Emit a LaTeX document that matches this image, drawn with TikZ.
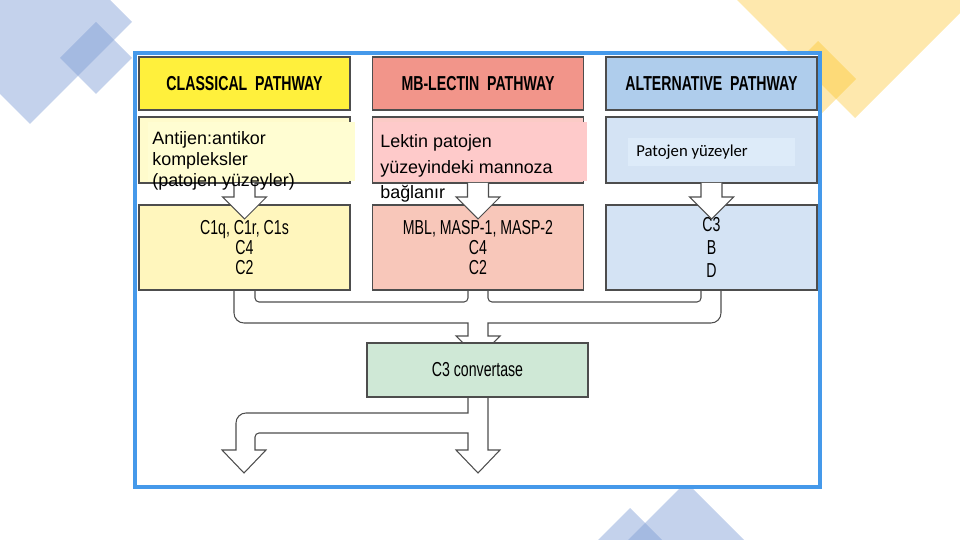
\documentclass[tikz,border=0pt]{standalone}
\usepackage{fontspec}
\setmainfont{Liberation Sans}
\newfontfamily\condfont[FakeStretch=0.7]{Liberation Sans}
\newfontfamily\notefont{Carlito}

\definecolor{clsHead}{HTML}{FFF03C}
\definecolor{clsLight}{HTML}{FFFBCC}
\definecolor{clsNote}{HTML}{FFFDD2}
\definecolor{clsBody}{HTML}{FFF6BD}
\definecolor{mbHead}{HTML}{F2958A}
\definecolor{mbLight}{HTML}{FBCBC6}
\definecolor{mbNote}{HTML}{FECACA}
\definecolor{mbBody}{HTML}{F8C7BA}
\definecolor{altHead}{HTML}{AFCDEC}
\definecolor{altBody}{HTML}{D4E3F4}
\definecolor{altNote}{HTML}{DDEBF9}
\definecolor{convFill}{HTML}{CFE8D6}
\definecolor{frameBlue}{HTML}{4599EA}
\definecolor{boxLine}{HTML}{4D4D4D}
\definecolor{decoBlue}{HTML}{7D9CD4}
\definecolor{decoGold}{HTML}{FCBE14}

\newcommand*{\outr}{0.2cm}
\newcommand*{\inr}{0.08cm}
\newcommand*{\shaftw}{10.5}
\newcommand*{\headw}{22}

% hollow block arrow: centre x, top, head base, tip
\newcommand*{\blockarrow}[4]{%
    \draw[arrline, fill=white] (#1-\shaftw,#2) -- (#1-\shaftw,#3) -- (#1-\headw,#3) -- (#1,#4) --
    (#1+\headw,#3) -- (#1+\shaftw,#3) -- (#1+\shaftw,#2);
}

\begin{document}
\begin{tikzpicture}[x=0.02cm, y=-0.02cm,
    box/.style={draw=boxLine, line width=0.6pt, minimum width=211*0.02cm, inner sep=0pt},
    hdr/.style={box, minimum height=53*0.02cm, font=\condfont\bfseries\fontsize{11.5}{13}\selectfont},
    src/.style={box, minimum height=66*0.02cm},
    body/.style={box, minimum height=85*0.02cm, align=center, font=\condfont\fontsize{11.5}{11.3}\selectfont},
    note/.style={inner sep=0pt, align=left, anchor=north west},
    arrline/.style={draw=boxLine, line width=0.6pt}]
\useasboundingbox (0,0) rectangle (960,540);

% background decoration
\begin{scope}
\clip (0,0) rectangle (960,540);
\fill[decoBlue, opacity=0.45] (30,-80) -- (132,22) -- (30,124) -- (-72,22) -- cycle;
\fill[decoBlue, opacity=0.45] (96,22) -- (132,58) -- (96,94) -- (60,58) -- cycle;
\fill[decoGold, opacity=0.35] (855,-118) -- (973,0) -- (855,118) -- (737,0) -- cycle;
\fill[decoGold, opacity=0.35] (818,41) -- (856,79) -- (818,117) -- (780,79) -- cycle;
\fill[decoBlue, opacity=0.45] (686,482) -- (760,556) -- (686,630) -- (612,556) -- cycle;
\fill[decoBlue, opacity=0.45] (630,508) -- (680,558) -- (630,608) -- (580,558) -- cycle;
\end{scope}

% frame
\filldraw[fill=white, draw=frameBlue, line width=2.3pt] (135,53) rectangle (820,487);

% pathway headers
\node[hdr, fill=clsHead] (clsHdr) at (244.5,83.5) {CLASSICAL\ \ PATHWAY};
\node[hdr, fill=mbHead] (mbHdr) at (478,83.5) {MB-LECTIN\ \ PATHWAY};
\node[hdr, fill=altHead] (altHdr) at (711.5,83.5) {ALTERNATIVE\ \ PATHWAY};

% activators
\node[src, fill=clsLight] (clsSrc) at (244.5,150) {};
\node[src, fill=mbLight] (mbSrc) at (478,150) {};
\node[src, fill=altBody] (altSrc) at (711.5,150) {};

% components
\node[body, fill=clsBody] (clsComp) at (244.5,247.5) {C1q, C1r, C1s\\C4\\C2};
\node[body, fill=mbBody] (mbComp) at (478,247.5) {MBL, MASP-1, MASP-2\\C4\\C2};
\node[body, fill=altBody, font=\condfont\fontsize{11.5}{13.3}\selectfont] (altComp) at (711.5,247.5) {C3\\B\\D};

% arrows into the components
\blockarrow{244.5}{183}{197}{219}
\blockarrow{478}{183}{197}{219}
\blockarrow{711.5}{183}{197}{219}

% merging into the convertase
\draw[arrline] (234,290) [rounded corners=\outr] -- (234,323) [sharp corners] -- (468,323) -- (468,336) --
(456,336) -- (478,358) -- (500,336) -- (488,336) -- (488,323) [rounded corners=\outr] -- (721,323) [sharp corners] -- (721,290);
\draw[arrline] (255,290) [rounded corners=\inr] -- (255,302) -- (468,302) -- (468,290);
\draw[arrline] (488,290) [rounded corners=\inr] -- (488,302) -- (701,302) -- (701,290);

% convertase
\node[box, fill=convFill, minimum width=221*0.02cm, minimum height=54*0.02cm,
      font=\condfont\fontsize{11.5}{13}\selectfont] (conv) at (477.5,370) {C3 convertase};

% split below the convertase
\draw[arrline] (468,397) -- (468,413) [rounded corners=\outr] -- (236,413) [sharp corners] -- (236,450) --
(222,450) -- (244,473) -- (266,450) -- (255,450) [rounded corners=\inr] -- (255,433) [sharp corners] -- (468,433) --
(468,450) -- (456,450) -- (478,473) -- (500,450) -- (488,450) -- (488,397);

% text on the activators
\fill[clsNote] (148,122) rectangle (355,181);
\node[note, font=\fontsize{10.2}{11.9}\selectfont] (clsTxt) at (152,131) {Antijen:antikor\\kompleksler\\(patojen yüzeyler)};
\fill[mbNote] (373,122) rectangle (587,181);
\node[note, font=\fontsize{10.2}{14.7}\selectfont] (mbTxt) at (380,134) {Lektin patojen\\yüzeyindeki mannoza\\bağlanır};
\fill[altNote] (628,138) rectangle (795,166);
\node[inner sep=0pt, anchor=west, font=\notefont\fontsize{9.5}{11}\selectfont] (altTxt) at (636,152) {Patojen yüzeyler};

\end{tikzpicture}
\end{document}
